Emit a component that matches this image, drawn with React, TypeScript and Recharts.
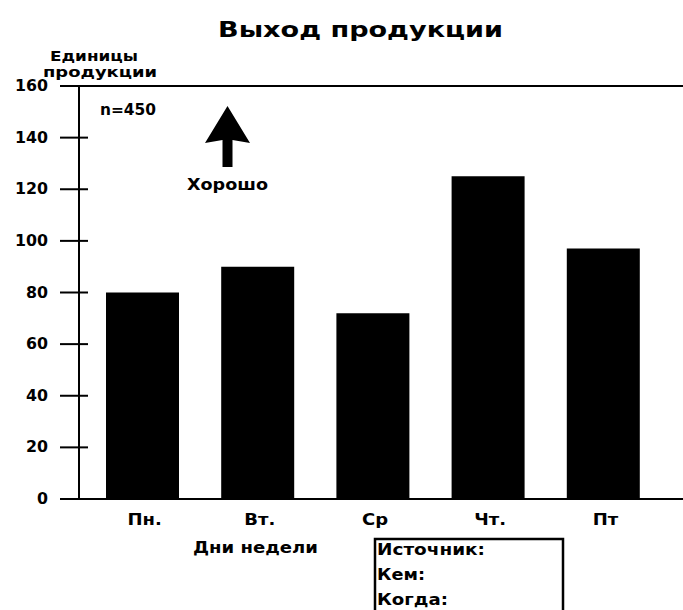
import { BarChart, Bar, XAxis, YAxis, ReferenceLine } from "recharts";

const days = ["Пн.", "Вт.", "Ср", "Чт.", "Пт"];
const output = [80, 90, 72, 125, 97];
const yTicks = [0, 20, 40, 60, 80, 100, 120, 140, 160];

const data = days.map((day, i) => ({ day, value: output[i] }));

const font = "'DejaVu Sans', Verdana, sans-serif";

// bold text, optionally stretched to a given width like the original's wide lettering
const T = ({ x, y, len, size = 15, anchor = "start", children }: any) => (
  <text
    x={x}
    y={y}
    textAnchor={anchor}
    fontFamily={font}
    fontWeight="bold"
    fontSize={size}
    fill="#000"
    textLength={len}
    lengthAdjust={len ? "spacingAndGlyphs" : undefined}
  >
    {children}
  </text>
);

const YTick = (props: any) => {
  const { x, y, payload } = props;
  const s = String(payload.value);
  return (
    <g>
      <line x1={x - 19} x2={x + 9} y1={y} y2={y} stroke="#000" strokeWidth={2} />
      <T x={x - 31} y={y + 5} anchor="end" len={s.length * 11}>
        {s}
      </T>
    </g>
  );
};

const XTick = (props: any) => {
  const { x, y, payload } = props;
  return (
    <g transform={`translate(${x + 2},${y + 26}) scale(1.2,1)`}>
      <T x={0} y={0} anchor="middle">
        {payload.value}
      </T>
    </g>
  );
};

export default function App() {
  return (
    <div style={{ position: "absolute", left: 0, top: 0, width: 683, height: 610, background: "#fff" }}>
      <BarChart
        width={683}
        height={610}
        data={data}
        margin={{ top: 86, right: 0, bottom: 71, left: 0 }}
      >
        <YAxis
          width={79}
          domain={[0, 160]}
          ticks={yTicks}
          interval={0}
          axisLine={{ stroke: "#000", strokeWidth: 2 }}
          tickLine={false}
          tickSize={0}
          tickMargin={0}
          tick={<YTick />}
        />
        <XAxis
          dataKey="day"
          height={40}
          padding={{ left: 6, right: 22 }}
          axisLine={{ stroke: "#000", strokeWidth: 2 }}
          tickLine={false}
          tickSize={0}
          tickMargin={0}
          tick={<XTick />}
        />
        <ReferenceLine y={160} stroke="#000" strokeWidth={2} />
        <Bar dataKey="value" fill="#000" barSize={73} isAnimationActive={false} />
      </BarChart>
      <svg
        width={683}
        height={610}
        style={{ position: "absolute", left: 0, top: 0, pointerEvents: "none" }}
      >
        <T x={218} y={37} size={21} len={285}>
          Выход продукции
        </T>
        <T x={50} y={61} size={14} len={88}>
          Единицы
        </T>
        <T x={43} y={77} size={14} len={114}>
          продукции
        </T>
        <T x={100} y={115} len={56}>
          n=450
        </T>
        <polygon
          points="227.5,106 205,143 222.5,140 222.5,167 232.5,167 232.5,140 250,143"
          fill="#000"
        />
        <T x={187} y={190} len={81}>
          Хорошо
        </T>
        <T x={193} y={553} len={125}>
          Дни недели
        </T>
        <rect x={375} y={539} width={188} height={80} fill="none" stroke="#000" strokeWidth={2.5} />
        <T x={377} y={555} len={108}>
          Источник:
        </T>
        <T x={377} y={580} len={48}>
          Кем:
        </T>
        <T x={377} y={605} len={71}>
          Когда:
        </T>
      </svg>
    </div>
  );
}
